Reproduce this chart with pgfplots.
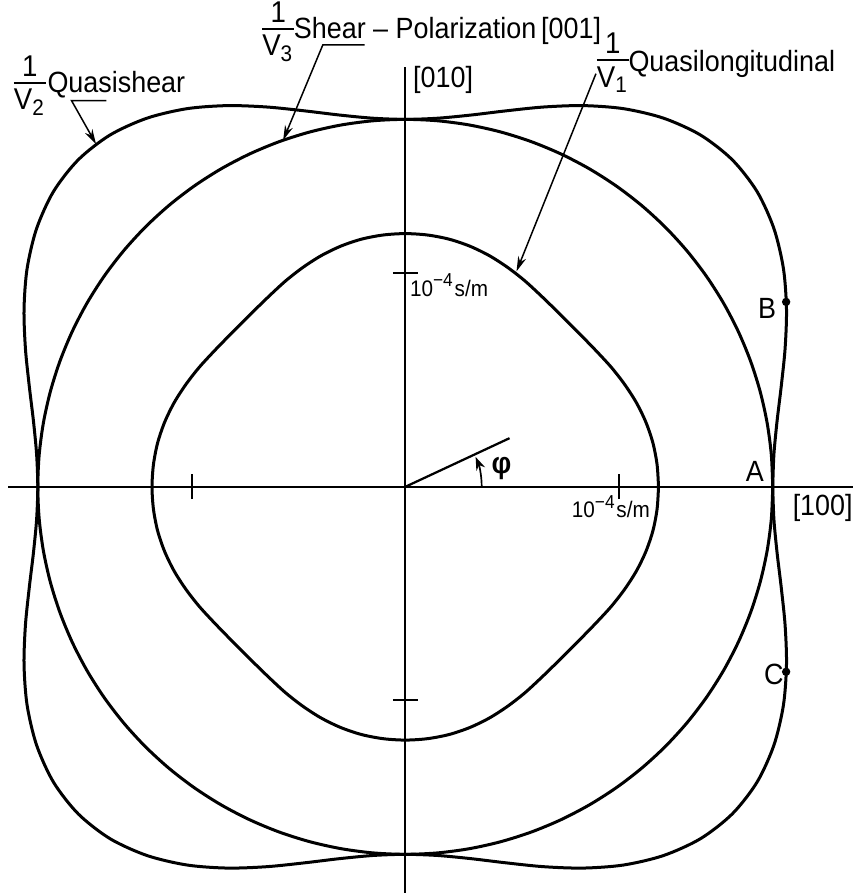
\documentclass[border=0pt]{standalone}
\usepackage{amsmath}
\usepackage{fontspec}
\setmainfont{Liberation Sans}[FakeStretch=0.92]
\usepackage{pgfplots}
\pgfplotsset{compat=1.18}
\usepackage{pgfplotstable}
\usetikzlibrary{arrows.meta}

% Slowness curves in the (001) plane, polar form: angle phi (deg), slowness in 1e-4 s/m
% r1: quasilongitudinal, r2: quasishear, r3: pure shear polarized along [001]
\pgfplotstableread{
phi r1 r2 r3
0   1.186 1.721 1.721
5   1.184 1.733 1.721
10  1.178 1.768 1.721
15  1.167 1.823 1.721
20  1.152 1.893 1.721
25  1.134 1.970 1.721
30  1.116 2.045 1.721
35  1.099 2.108 1.721
40  1.088 2.151 1.721
45  1.084 2.166 1.721
50  1.088 2.151 1.721
55  1.099 2.108 1.721
60  1.116 2.045 1.721
65  1.134 1.970 1.721
70  1.152 1.893 1.721
75  1.167 1.823 1.721
80  1.178 1.768 1.721
85  1.184 1.733 1.721
90  1.186 1.721 1.721
95  1.184 1.733 1.721
100 1.178 1.768 1.721
105 1.167 1.823 1.721
110 1.152 1.893 1.721
115 1.134 1.970 1.721
120 1.116 2.045 1.721
125 1.099 2.108 1.721
130 1.088 2.151 1.721
135 1.084 2.166 1.721
140 1.088 2.151 1.721
145 1.099 2.108 1.721
150 1.116 2.045 1.721
155 1.134 1.970 1.721
160 1.152 1.893 1.721
165 1.167 1.823 1.721
170 1.178 1.768 1.721
175 1.184 1.733 1.721
180 1.186 1.721 1.721
185 1.184 1.733 1.721
190 1.178 1.768 1.721
195 1.167 1.823 1.721
200 1.152 1.893 1.721
205 1.134 1.970 1.721
210 1.116 2.045 1.721
215 1.099 2.108 1.721
220 1.088 2.151 1.721
225 1.084 2.166 1.721
230 1.088 2.151 1.721
235 1.099 2.108 1.721
240 1.116 2.045 1.721
245 1.134 1.970 1.721
250 1.152 1.893 1.721
255 1.167 1.823 1.721
260 1.178 1.768 1.721
265 1.184 1.733 1.721
270 1.186 1.721 1.721
275 1.184 1.733 1.721
280 1.178 1.768 1.721
285 1.167 1.823 1.721
290 1.152 1.893 1.721
295 1.134 1.970 1.721
300 1.116 2.045 1.721
305 1.099 2.108 1.721
310 1.088 2.151 1.721
315 1.084 2.166 1.721
320 1.088 2.151 1.721
325 1.099 2.108 1.721
330 1.116 2.045 1.721
335 1.134 1.970 1.721
340 1.152 1.893 1.721
345 1.167 1.823 1.721
350 1.178 1.768 1.721
355 1.184 1.733 1.721
360 1.186 1.721 1.721
}\slowness

\newcommand{\inv}[1]{$\frac{\text{1}}{\text{V}_{\text{#1}}}$}

\begin{document}
\begin{tikzpicture}[font=\fontsize{7.8}{9}\selectfont, every node/.style={inner sep=0.5pt}]
\begin{axis}[
  anchor=origin, at={(0,0)},
  x=2cm, y=2cm,
  xmin=-1.860, xmax=2.098, ymin=-1.902, ymax=1.967,
  enlargelimits=false, clip=false,
  axis lines=middle,
  axis line style={-, line width=0.55pt, black},
  xtick={-1,1}, ytick={-1,1},
  xticklabels={}, yticklabels={},
  tick align=center, major tick length=6.6pt,
  tick style={line width=0.6pt, black},
]
% slowness curves
\addplot[black, line width=0.8pt, smooth, data cs=polar] table[x=phi, y=r1] {\slowness};
\addplot[black, line width=0.8pt, smooth, data cs=polar] table[x=phi, y=r2] {\slowness};
\addplot[black, line width=0.8pt, smooth, data cs=polar] table[x=phi, y=r3] {\slowness};
% points B and C on the quasishear curve
\addplot[only marks, mark=*, mark size=0.9pt, black, data cs=polar] coordinates {(25.9,1.983) (-25.9,1.983)};
\end{axis}

% annotations, in units of 1e-4 s/m (2 cm each)
\begin{scope}[x=2cm, y=2cm]
\node[font=\fontsize{12}{13}\selectfont] at (-1.758,1.879) {\inv{2}};
\node[anchor=base west, inner sep=0pt] at (-1.679,1.847) {Quasishear};
\draw[line width=0.4pt, -{Stealth[length=4pt,width=2.2pt]}]
  (-1.400,1.809) -- (-1.563,1.809) -- (-1.448,1.605);

\node[font=\fontsize{12}{13}\selectfont] at (-0.595,2.132) {\inv{3}};
\node[anchor=base west, inner sep=0pt] at (-0.525,2.102) {Shear -- Polarization\,[001]};
\draw[line width=0.4pt, -{Stealth[length=4pt,width=2.2pt]}]
  (-0.190,2.070) -- (-0.386,2.070) -- (-0.572,1.623);

\node[font=\fontsize{12}{13}\selectfont] at (0.972,1.986) {\inv{1}};
\node[anchor=base west, inner sep=0pt] at (1.042,1.946) {Quasilongitudinal};
\draw[line width=0.4pt, -{Stealth[length=4pt,width=2.2pt]}]
  (0.893,1.935) -- (0.521,1.009);

\node at (0.177,1.905) {[010]};
\node at (1.955,-0.100) {[100]};

\node[anchor=west, inner sep=0pt, font=\fontsize{6}{7}\selectfont] at (0.019,0.945) {10\textsuperscript{−4}s/m};
\node[inner sep=0pt, font=\fontsize{6}{7}\selectfont] at (0.963,-0.093) {10\textsuperscript{−4}s/m};

\draw[line width=0.6pt] (0,0) -- (0.4884,0.2279);
\draw[line width=0.45pt, -{Stealth[length=3.5pt,width=2.5pt]}]
  (0.358,0) arc[start angle=0, end angle=23, radius=0.358];
\node[font=\fontsize{8}{9}\selectfont\bfseries] at (0.451,0.084) {φ};

\node at (1.637,0.070) {A};
\node at (1.695,0.837) {B};
\node at (1.726,-0.879) {C};

\path (-1.898,-1.902) rectangle (2.098,2.256);
\end{scope}
\end{tikzpicture}
\end{document}
